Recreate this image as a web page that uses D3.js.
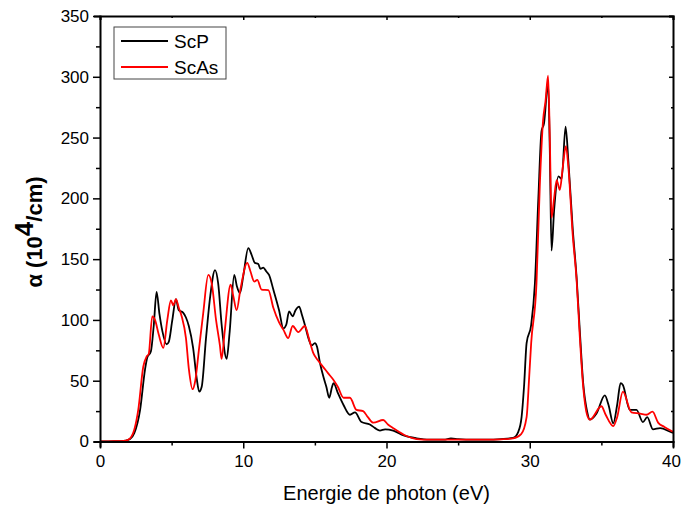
<html>
<head>
<style>
  body { margin: 0; background: #fff; }
  text { font-family: "Liberation Sans", Arial, sans-serif; }
</style>
</head>
<body>
<svg></svg>
<script src="https://d3js.org/d3.v7.min.js"></script>
<script>
// ScP (black)
var scpEnergy = [0,1,1.8,2.1,2.4,2.8,3.14,3.3,3.55,3.75,3.95,4.15,4.35,4.65,4.8,5.05,5.3,5.5,5.8,6.0,6.2,6.5,6.75,6.93,7.1,7.4,7.7,8.03,8.25,8.5,8.84,9.05,9.37,9.55,9.77,10.0,10.35,10.6,10.8,11.05,11.2,11.4,11.6,11.8,12.1,12.5,12.8,13.0,13.2,13.45,13.65,13.9,14.1,14.3,14.55,14.78,15.0,15.15,15.35,15.6,15.8,16.0,16.2,16.3,16.6,17.0,17.45,17.8,18.26,18.84,19.2,19.54,19.9,20.47,21.2,22.1,23,24,24.5,25,26,27,28,28.84,29.2,29.43,29.6,29.78,30.1,30.36,30.6,30.82,31.0,31.28,31.4,31.52,31.7,32.0,32.23,32.5,32.7,33.0,33.27,33.5,33.73,34.0,34.2,34.66,35.24,35.5,35.83,36.1,36.34,36.5,36.98,37.45,37.9,38.2,38.6,39.1,39.8,40];
var scpAlpha = [0,0.2,0.8,2,7,26,59,69,74,95,123,105,91,80,82,100,117,108,106,102,95,77,52,41,45,85,120,141,130,95,68,90,137,128,122,136,159,153,147,146,142,143,140,137,125,108,93,96,107,103,108,111,104,96,85,79,81,78,65,53,45,36,45,48,40,30,22,24,16,14,11,9,10,9,5,2.6,1.5,1.5,2.5,2,1.5,1.5,2,3,8,20,45,81,96,130,200,255,262,295,240,157,190,218,216,259,230,175,135,90,48,25,18,23,38,30,15,30,48,46.5,26,26,16,20,10,11,8,7];

// ScAs (red)
var scasEnergy = [0,1,1.8,2.1,2.4,2.67,3.02,3.26,3.4,3.65,3.84,4.1,4.42,4.7,4.95,5.12,5.3,5.5,5.7,6.0,6.2,6.46,6.65,6.9,7.2,7.56,7.8,8.1,8.37,8.49,8.7,9.12,9.3,9.54,9.8,10.28,10.5,10.77,10.98,11.28,11.75,12.1,12.5,12.8,13.14,13.45,13.84,14.3,14.6,14.9,15.2,15.6,15.93,16.3,16.6,17.0,17.45,17.9,18.37,18.7,19.08,19.77,20.1,20.47,21.4,22.1,23,24,25,26,27,28,28.84,29.4,29.78,29.96,30.1,30.47,30.7,30.93,31.1,31.28,31.4,31.52,31.7,31.88,32.1,32.3,32.52,32.7,33.0,33.27,33.5,33.73,34.0,34.2,35.0,35.3,35.83,36.1,36.5,37.1,37.7,38.15,38.57,38.96,39.4,40];
var scasAlpha = [0,0.2,0.8,2.6,10,26,61.5,70,72,103,100,88,77,100,116,112,117,110,103,85,60,43,50,75,105,137,130,100,79,68,90,129,120,108,125,147,140,131.5,133,125,124.6,110,98,92,85,95,90,95,84,72.5,67,61,56,50.6,45,36,36,26,25,20,15.5,17.7,14,11,4.5,2,1.5,1.5,1.5,1.5,1.5,1.8,2.5,6,20,53,81,130,210,264,280,301,250,184,200,215,207,225,243,225,170,133,85,45,22,18,29,22,12.7,20,41,24,23,22,24.5,15.5,12,8];

var seriesNames = ["ScP", "ScAs"];
var seriesColors = ["#000000", "#ff0000"];
var xTicks = [0, 10, 20, 30, 40];
var yTicks = [0, 50, 100, 150, 200, 250, 300, 350];

var W = 681, H = 506;
var m = {left: 100, top: 16, right: 8, bottom: 64.5};
var iw = W - m.left - m.right, ih = H - m.top - m.bottom;

var svg = d3.select("svg").attr("width", W).attr("height", H);
var g = svg.append("g").attr("transform", "translate(" + m.left + "," + m.top + ")");

var x = d3.scaleLinear().domain([0, 40]).range([0, iw]);
var y = d3.scaleLinear().domain([0, 350]).range([ih, 0]);

var line = d3.line()
  .x(function(d) { return x(d[0]); })
  .y(function(d) { return y(d[1]); })
  .curve(d3.curveMonotoneX);

var series = [
  d3.zip(scpEnergy, scpAlpha),
  d3.zip(scasEnergy, scasAlpha)
];

// black first, red on top
series.forEach(function(s, i) {
  g.append("path")
    .datum(s)
    .attr("fill", "none")
    .attr("stroke", seriesColors[i])
    .attr("stroke-width", 1.8)
    .attr("stroke-linejoin", "round")
    .attr("d", line);
});

// axes (major ticks labelled, minor ticks halfway)
var minorX = d3.range(0, 41, 5), minorY = d3.range(0, 351, 25);
function isMajorX(d) { return xTicks.indexOf(d) >= 0; }
function isMajorY(d) { return yTicks.indexOf(d) >= 0; }

var axBottom = g.append("g").attr("transform", "translate(0," + ih + ")")
  .call(d3.axisBottom(x).tickValues(minorX).tickSize(6).tickPadding(7)
    .tickFormat(function(d) { return isMajorX(d) ? d : ""; }));
axBottom.selectAll(".tick line").attr("y2", function(d) { return isMajorX(d) ? 7 : 4; });
// keep the last label inside the window
axBottom.selectAll(".tick text").filter(function(d) { return d === 40; }).attr("dx", -2);

var axLeft = g.append("g")
  .call(d3.axisLeft(y).tickValues(minorY).tickSize(6).tickPadding(5)
    .tickFormat(function(d) { return isMajorY(d) ? d : ""; }));
axLeft.selectAll(".tick line").attr("x2", function(d) { return isMajorY(d) ? -7 : -4; });

var axTop = g.append("g")
  .call(d3.axisTop(x).tickValues(minorX).tickSize(-4).tickFormat(""));
axTop.selectAll(".tick line").attr("y2", function(d) { return isMajorX(d) ? 4 : 2; });

var axRight = g.append("g").attr("transform", "translate(" + iw + ",0)")
  .call(d3.axisRight(y).tickValues(minorY).tickSize(-4).tickFormat(""));
axRight.selectAll(".tick line").attr("x2", function(d) { return isMajorY(d) ? -4 : -2; });

[axBottom, axLeft, axTop, axRight].forEach(function(a) {
  a.select(".domain").attr("stroke-width", 2);
  a.selectAll(".tick line").attr("stroke-width", 1.5);
  a.selectAll("text").attr("font-size", 17).attr("fill", "#000")
    .style("font-family", "'Liberation Sans', Arial, sans-serif");
});

// axis titles
svg.append("text")
  .attr("x", m.left + iw / 2).attr("y", 500)
  .attr("text-anchor", "middle").attr("font-size", 20)
  .text("Energie de photon (eV)");

var yl = svg.append("text")
  .attr("transform", "translate(42,232) rotate(-90)")
  .attr("text-anchor", "middle").attr("font-size", 22).attr("font-weight", "bold");
yl.append("tspan").text("α (10");
yl.append("tspan").attr("dy", -9).attr("font-size", 26).text("4");
yl.append("tspan").attr("dy", 9).text("/cm)");

// legend
var lg = svg.append("g").attr("transform", "translate(114,27)");
lg.append("rect").attr("width", 112).attr("height", 52)
  .attr("fill", "#fff").attr("stroke", "#444").attr("stroke-width", 1);
seriesNames.forEach(function(n, i) {
  var yy = 14 + i * 26;
  lg.append("line").attr("x1", 7).attr("x2", 54).attr("y1", yy).attr("y2", yy)
    .attr("stroke", seriesColors[i]).attr("stroke-width", 1.8);
  lg.append("text").attr("x", 60).attr("y", yy + 7).attr("font-size", 19).text(n);
});
</script>
</body>
</html>
